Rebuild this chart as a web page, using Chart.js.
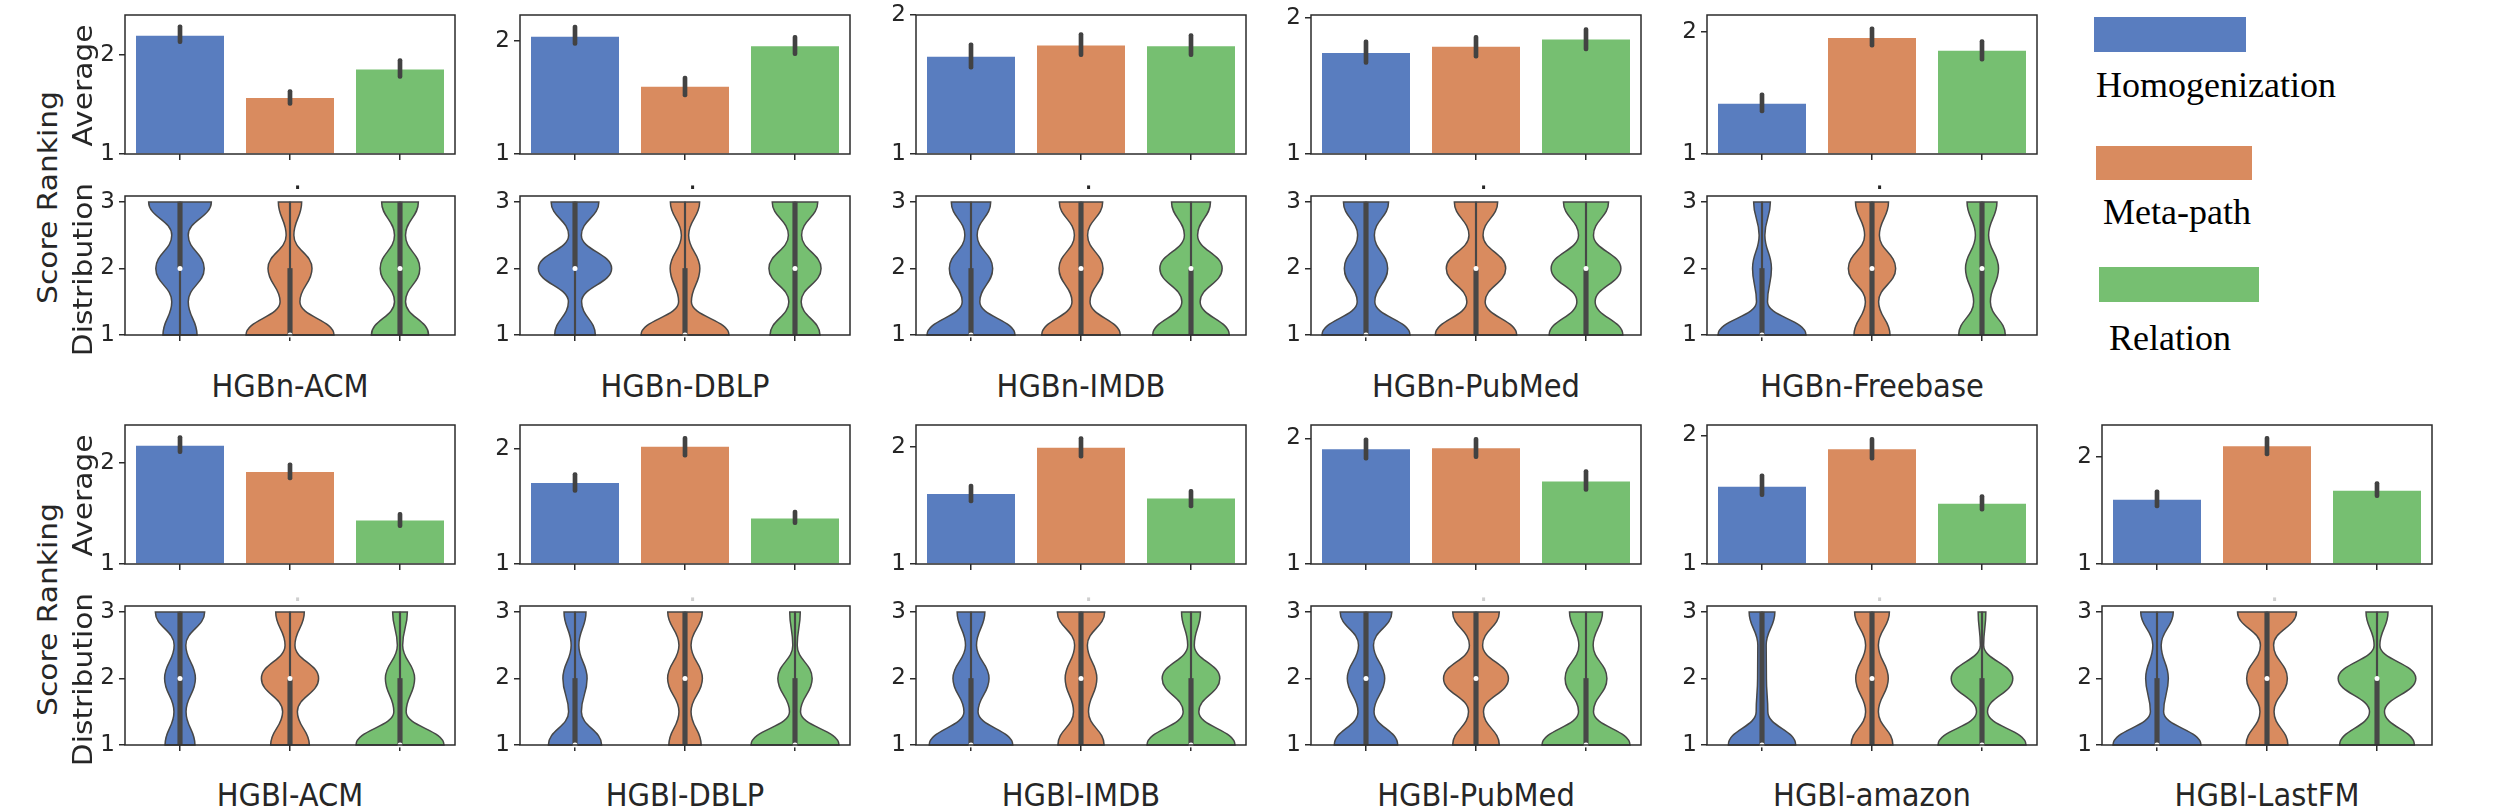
<!DOCTYPE html>
<html>
<head>
<meta charset="utf-8">
<script src="https://cdn.jsdelivr.net/npm/chart.js@4.4.1/dist/chart.umd.min.js"></script>
<style>
  html, body { margin: 0; padding: 0; background: #fff; }
  #page { position: relative; width: 2502px; height: 810px; overflow: hidden; }
  canvas { position: absolute; }
  .txt { position: absolute; white-space: nowrap; color: #262626; font-family: 'DejaVu Sans', sans-serif; }
  .xlab { font-size: 29px; line-height: 29px; height: 29px; width: 400px; text-align: center; transform: scaleY(1.1); }
  .ylab { font-size: 27px; line-height: 27px; height: 27px; width: 300px; text-align: center; transform: scaleY(1.1) rotate(-90deg); }
  .leg { position: absolute; white-space: nowrap; color: #000; font-family: 'Liberation Serif', 'Times New Roman', serif; font-size: 36px; line-height: 36px; }
  .patch { position: absolute; }
</style>
</head>
<body>
<div id="page"></div>
<script>
const methods = ["Homogenization", "Meta-path", "Relation"];
const panelNames = ["HGBn-ACM", "HGBn-DBLP", "HGBn-IMDB", "HGBn-PubMed", "HGBn-Freebase",
  "HGBl-ACM", "HGBl-DBLP", "HGBl-IMDB", "HGBl-PubMed", "HGBl-amazon", "HGBl-LastFM"];

// average ranking score per panel (Homogenization, Meta-path, Relation)
const avgMean = [
  [2.19, 1.565, 1.85], [2.037, 1.596, 1.954], [1.70, 1.78, 1.776], [1.741, 1.787, 1.84], [1.41, 1.949, 1.843],
  [2.17, 1.91, 1.43], [1.703, 2.018, 1.396], [1.597, 1.991, 1.558], [1.913, 1.921, 1.657], [1.60, 1.891, 1.468], [1.602, 2.102, 1.684],
];
const avgLow = [
  [2.11, 1.49, 1.76], [1.96, 1.505, 1.87], [1.61, 1.70, 1.70], [1.658, 1.703, 1.757], [1.335, 1.873, 1.758],
  [2.09, 1.83, 1.36], [1.622, 1.928, 1.342], [1.522, 1.903, 1.478], [1.826, 1.839, 1.579], [1.524, 1.806, 1.411], [1.524, 2.01, 1.621],
];
const avgHigh = [
  [2.30, 1.65, 1.96], [2.14, 1.69, 2.05], [1.80, 1.873, 1.866], [1.837, 1.871, 1.928], [1.50, 2.04, 1.936],
  [2.27, 2.00, 1.51], [1.793, 2.108, 1.468], [1.681, 2.088, 1.637], [2.004, 2.008, 1.752], [1.70, 1.984, 1.54], [1.694, 2.194, 1.772],
];
const barAxisMax = [2.40, 2.23, 2.0, 2.02, 2.136, 2.374, 2.207, 2.186, 2.107, 2.08, 2.30];
const barTicks = [1, 2];

// violin half-widths (fraction of a category) read at these score levels
const densityLevels = [1, 1.5, 2, 2.5, 3];
const violinWidth = [
  [[0.155, 0.075, 0.22, 0.075, 0.285], [0.40, 0.09, 0.20, 0.035, 0.106], [0.26, 0.05, 0.18, 0.05, 0.167]],
  [[0.185, 0.06, 0.333, 0.058, 0.217], [0.40, 0.058, 0.135, 0.033, 0.133], [0.227, 0.056, 0.237, 0.06, 0.207]],
  [[0.40, 0.08, 0.197, 0.056, 0.179], [0.357, 0.082, 0.20, 0.06, 0.197], [0.348, 0.083, 0.283, 0.06, 0.177]],
  [[0.40, 0.08, 0.197, 0.076, 0.205], [0.37, 0.083, 0.27, 0.064, 0.197], [0.335, 0.083, 0.317, 0.068, 0.205]],
  [[0.40, 0.05, 0.086, 0.026, 0.076], [0.164, 0.06, 0.215, 0.067, 0.15], [0.212, 0.076, 0.15, 0.06, 0.136]],
  [[0.136, 0.055, 0.14, 0.053, 0.224], [0.176, 0.067, 0.26, 0.045, 0.13], [0.40, 0.056, 0.133, 0.024, 0.067]],
  [[0.242, 0.058, 0.11, 0.035, 0.10], [0.147, 0.055, 0.158, 0.055, 0.157], [0.40, 0.05, 0.156, 0.02, 0.048]],
  [[0.38, 0.064, 0.164, 0.05, 0.126], [0.21, 0.068, 0.144, 0.058, 0.215], [0.40, 0.071, 0.262, 0.03, 0.086]],
  [[0.288, 0.073, 0.17, 0.068, 0.235], [0.212, 0.068, 0.295, 0.06, 0.212], [0.40, 0.068, 0.19, 0.065, 0.15]],
  [[0.306, 0.053, 0.04, 0.038, 0.117], [0.19, 0.058, 0.148, 0.058, 0.158], [0.40, 0.05, 0.28, 0.015, 0.035]],
  [[0.40, 0.06, 0.103, 0.038, 0.148], [0.19, 0.064, 0.185, 0.06, 0.268], [0.34, 0.068, 0.353, 0.026, 0.10]],
];
const boxQ1 = [
  [2, 1, 1], [2, 1, 1], [1, 1, 1], [1, 1, 1], [1, 1, 1],
  [1, 1, 1], [1, 1, 1], [1, 1, 1], [1, 1, 1], [1, 1, 1], [1, 1, 1],
];
const boxMedian = [
  [2, 1, 2], [2, 1, 2], [1, 2, 2], [1, 2, 2], [1, 2, 2],
  [2, 2, 1], [1, 2, 1], [1, 2, 1], [2, 2, 1], [1, 2, 1], [1, 2, 2],
];
const boxQ3 = [
  [3, 2, 3], [3, 2, 3], [2, 3, 2], [3, 2, 2], [2, 3, 3],
  [3, 2, 2], [2, 3, 2], [2, 3, 2], [3, 3, 2], [3, 3, 2], [2, 3, 2],
];
const whiskerLow = [1, 1, 1];
const whiskerHigh = [3, 3, 3];
const violinAxisMax = 3.09;
const violinTicks = [1, 2, 3];

const colors = ["#597dbf", "#d98b5f", "#76bf71"];
const SPINE = "#2b2b2b";
const INNER = "#474747";

const page = document.getElementById("page");
const PAD_L = 40, PAD_R = 8, PAD_T = 16, PAD_B = 16;
const BOX_W = 330, BOX_H = 139;
const colLeft = [125, 520, 916, 1311, 1707, 2102];
const rows = [
  { bar: 15, violin: 196, xlabel: 397, dot: 189 },
  { bar: 425, violin: 606, xlabel: 806, dot: 601 },
];

Chart.defaults.font.family = "'DejaVu Sans', sans-serif";
Chart.defaults.animation = false;

Chart.register({
  id: "frame",
  afterDraw(chart) {
    const { ctx, chartArea: a } = chart;
    ctx.save();
    ctx.strokeStyle = SPINE;
    ctx.lineWidth = 1.5;
    ctx.strokeRect(a.left, a.top, a.right - a.left, a.bottom - a.top);
    ctx.restore();
  },
});

function addCanvas(left, top) {
  const c = document.createElement("canvas");
  c.width = BOX_W + PAD_L + PAD_R;
  c.height = BOX_H + PAD_T + PAD_B;
  c.style.left = left - PAD_L + "px";
  c.style.top = top - PAD_T + "px";
  page.appendChild(c);
  return c;
}

function addText(cls, text, left, top, extra) {
  const d = document.createElement("div");
  d.className = cls;
  d.textContent = text;
  d.style.left = left + "px";
  d.style.top = top + "px";
  Object.assign(d.style, extra || {});
  page.appendChild(d);
}

function scalesFor(yMax, yTicks) {
  const grid = { display: true, offset: false, drawOnChartArea: false, drawTicks: true, tickLength: 6, color: SPINE, lineWidth: 1.5 };
  return {
    x: {
      type: "category",
      offset: true,
      grid,
      border: { display: false },
      ticks: { display: false },
      afterFit: (a) => { a.height = PAD_B; a.paddingLeft = 0; a.paddingRight = 0; },
    },
    y: {
      type: "linear",
      min: 1,
      max: yMax,
      grid,
      border: { display: false },
      ticks: { color: "#262626", font: { size: 23 }, padding: 4 },
      afterBuildTicks: (a) => { a.ticks = yTicks.map((v) => ({ value: v })); },
      afterFit: (a) => { a.width = PAD_L; a.paddingTop = 0; a.paddingBottom = 0; },
    },
  };
}

function baseOptions(yMax, yTicks) {
  return {
    responsive: false,
    events: [],
    layout: { padding: { top: PAD_T, right: PAD_R, left: 0, bottom: 0 } },
    plugins: { legend: { display: false }, tooltip: { enabled: false } },
    scales: scalesFor(yMax, yTicks),
  };
}

function barChart(p, left, top) {
  new Chart(addCanvas(left, top), {
    type: "bar",
    data: {
      labels: methods,
      datasets: [
        {
          data: methods.map((m, i) => [avgLow[p][i], avgHigh[p][i]]),
          backgroundColor: "#424242",
          barThickness: 4,
          borderRadius: 2,
          borderSkipped: false,
          grouped: false,
          order: 0,
        },
        {
          data: avgMean[p],
          backgroundColor: colors,
          base: 1,
          clip: 0,
          barPercentage: 0.8,
          categoryPercentage: 1,
          grouped: false,
          order: 1,
        },
      ],
    },
    options: baseOptions(barAxisMax[p], barTicks),
  });
}

function violinPlugin(p) {
  return {
    id: "violin" + p,
    beforeDatasetsDraw(chart) {
      const { ctx, scales: { x, y } } = chart;
      const step = x.getPixelForValue(1) - x.getPixelForValue(0);
      violinWidth[p].forEach((widths, i) => {
        const cx = x.getPixelForValue(i);
        const pts = densityLevels.map((lv, k) => ({ dx: widths[k] * step, py: y.getPixelForValue(lv) }));
        const n = pts.length;
        const k0 = 0.45;
        ctx.save();
        ctx.beginPath();
        ctx.moveTo(cx + pts[0].dx, pts[0].py);
        for (let k = 0; k < n - 1; k++) {
          const a = pts[k], b = pts[k + 1], dy = b.py - a.py;
          ctx.bezierCurveTo(cx + a.dx, a.py + dy * k0, cx + b.dx, b.py - dy * k0, cx + b.dx, b.py);
        }
        ctx.lineTo(cx - pts[n - 1].dx, pts[n - 1].py);
        for (let k = n - 1; k > 0; k--) {
          const a = pts[k], b = pts[k - 1], dy = b.py - a.py;
          ctx.bezierCurveTo(cx - a.dx, a.py + dy * k0, cx - b.dx, b.py - dy * k0, cx - b.dx, b.py);
        }
        ctx.closePath();
        ctx.fillStyle = colors[i];
        ctx.fill();
        ctx.lineWidth = 1.5;
        ctx.strokeStyle = INNER;
        ctx.stroke();
        ctx.restore();
      });
    },
  };
}

function violinChart(p, left, top) {
  new Chart(addCanvas(left, top), {
    type: "bar",
    data: {
      labels: methods,
      datasets: [
        {
          type: "line",
          data: boxMedian[p],
          showLine: false,
          pointRadius: 2.5,
          pointBorderWidth: 0,
          pointBackgroundColor: "#ffffff",
          clip: 3,
          order: 0,
        },
        {
          data: methods.map((m, i) => [boxQ1[p][i], boxQ3[p][i]]),
          backgroundColor: INNER,
          barThickness: 4.5,
          grouped: false,
          order: 1,
        },
        {
          data: methods.map((m, i) => [whiskerLow[i], whiskerHigh[i]]),
          backgroundColor: INNER,
          barThickness: 1.5,
          grouped: false,
          order: 2,
        },
      ],
    },
    options: baseOptions(violinAxisMax, violinTicks),
    plugins: [violinPlugin(p)],
  });
}

panelNames.forEach((name, p) => {
  const row = p < 5 ? rows[0] : rows[1];
  const left = colLeft[p < 5 ? p : p - 5];
  barChart(p, left, row.bar);
  violinChart(p, left, row.violin);
  const cx = left + BOX_W / 2;
  addText("txt xlab", name, cx - 200, row.xlabel - 25.5);
  addText("txt", ".", cx + 3, row.dot - 24.5, { fontSize: "29px", lineHeight: "29px", color: p < 5 ? "#262626" : "#cfcfcf" });
});

// y labels on the first column
[[197, 85, 269], [609, 495, 679]].forEach(([yScore, yAvg, yDist]) => {
  addText("txt ylab", "Score Ranking", 47.4 - 150, yScore - 13.5);
  addText("txt ylab", "Average", 82 - 150, yAvg - 13.5);
  addText("txt ylab", "Distribution", 82 - 150, yDist - 13.5);
});

// legend
const legendPatch = [[2094, 17, 152, 35], [2096, 146, 156, 34], [2099, 267, 160, 35]];
const legendText = [[2096, 67], [2103, 194], [2109, 320]];
methods.forEach((m, i) => {
  const [l, t, w, h] = legendPatch[i];
  const d = document.createElement("div");
  d.className = "patch";
  Object.assign(d.style, { left: l + "px", top: t + "px", width: w + "px", height: h + "px", background: colors[i] });
  page.appendChild(d);
  addText("leg", m, legendText[i][0], legendText[i][1]);
});
</script>
</body>
</html>
